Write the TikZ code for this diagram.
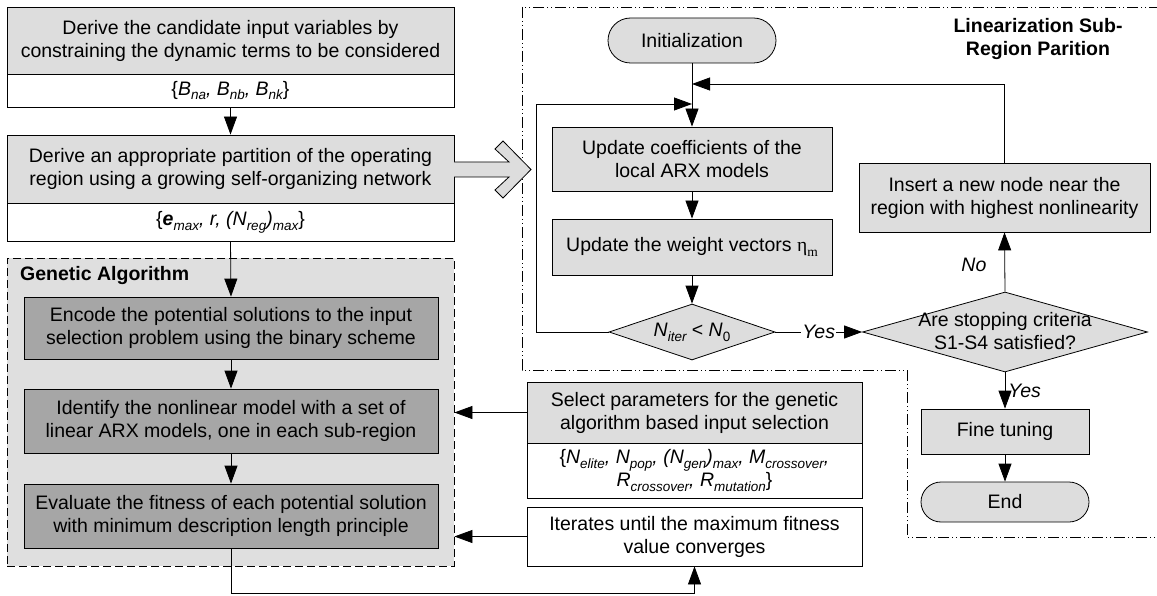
\documentclass[tikz,border=0pt]{standalone}
\usepackage{fontspec}
\setmainfont{Liberation Sans}
\newfontfamily\grk{Liberation Serif}
\usetikzlibrary{arrows.meta,shapes.geometric}
\definecolor{boxgray}{HTML}{DDDDDD}
\definecolor{darkbox}{HTML}{A6A6A6}
\definecolor{regiongray}{HTML}{DFDFDF}
% lowered, smaller text for subscripts
\newcommand\lo[1]{\raisebox{-0.25em}{\fontsize{13.5}{14}\selectfont #1}}
\begin{document}
\begin{tikzpicture}[x=1pt,y=-1pt,
  font=\fontsize{19.5}{23}\selectfont,
  box/.style={draw=black, line width=0.8pt, fill=boxgray, inner sep=0pt, align=center},
  whitebox/.style={box, fill=white},
  gabox/.style={box, fill=darkbox},
  dia/.style={diamond, draw=black, line width=0.8pt, fill=boxgray, inner sep=0pt},
  arr/.style={-{Triangle[length=18pt,width=13pt]}, line width=0.8pt},
  lbl/.style={font=\fontsize{19.5}{23}\selectfont\itshape},
  dashdot/.style={line width=0.8pt, dash pattern=on 11pt off 3pt on 1pt off 3pt on 1pt off 3pt},
  hollow/.style={draw=black, line width=0.8pt, fill=boxgray, line join=miter}
]
\useasboundingbox (0,0) rectangle (1157,596);

% ---- left column ----
\node[box, minimum width=447pt, minimum height=67pt] (b1) at (230.5,40.5)
  {Derive the candidate input variables by\\constraining the dynamic terms to be considered};
\node[whitebox, minimum width=447pt, minimum height=33pt] (b1p) at (230.5,90.5)
  {\{{\itshape B\lo{na}, B\lo{nb}, B\lo{nk}}\}};
\node[box, minimum width=447pt, minimum height=68pt] (b2) at (230.5,169)
  {Derive an appropriate partition of the operating\\region using a growing self-organizing network};
\node[whitebox, minimum width=447pt, minimum height=38pt] (b2p) at (230.5,222)
  {\{{\bfseries\itshape e}{\itshape\lo{max}, r, (N\lo{reg})\lo{max}}\}};

% genetic algorithm region
\node[draw=black, line width=0.8pt, dash pattern=on 8pt off 4pt, fill=regiongray,
  minimum width=447pt, minimum height=308pt, inner sep=0pt] (ga) at (230.5,412) {};
\node[anchor=west, inner sep=0pt, font=\fontsize{19.5}{23}\selectfont\bfseries] (gat) at (20,276) {Genetic Algorithm};

\node[gabox, minimum width=414pt, minimum height=62pt] (encode) at (231,328)
  {Encode the potential solutions to the input\\selection problem using the binary scheme};
\node[gabox, minimum width=414pt, minimum height=64pt] (ident) at (231,421)
  {Identify the nonlinear model with a set of\\linear ARX models, one in each sub-region};
\node[gabox, minimum width=414pt, minimum height=64pt] (evalf) at (231,516)
  {Evaluate the fitness of each potential solution\\with minimum description length principle};

% ---- middle column ----
\node[box, minimum width=335pt, minimum height=61pt] (select) at (694.5,412.5)
  {Select parameters for the genetic\\algorithm based input selection};
\node[whitebox, minimum width=335pt, minimum height=55pt] (selectp) at (694.5,470.5)
  {\{{\itshape N\lo{elite}, N\lo{pop}, (N\lo{gen})\lo{max}, M\lo{crossover},}\\{\itshape R\lo{crossover}, R\lo{mutation}}\}};
\node[whitebox, minimum width=335pt, minimum height=59pt] (iter) at (694.5,536.5)
  {Iterates until the maximum fitness\\value converges};

% ---- sub-region partition ----
\draw[dashdot] (1160,7) -- (522,7) -- (522,370) -- (907,370) -- (907,537) -- (1160,537);
\node[align=center, inner sep=0pt, font=\fontsize{19.5}{23}\selectfont\bfseries] (lt) at (1038,39)
  {Linearization Sub-\\Region Parition};

\node[box, minimum width=168pt, minimum height=45pt, rounded corners=22.5pt] (init) at (692,40.5) {Initialization};
\node[box, minimum width=280pt, minimum height=64pt] (upcoef) at (692,159)
  {Update coefficients of the\\local ARX models};
\node[box, minimum width=280pt, minimum height=56pt] (upweight) at (692,247)
  {Update the weight vectors {\grk η\lo{m}}};
\node[dia, minimum width=166pt, minimum height=56pt] (d1) at (692,332) {};
\node[inner sep=0pt] at (d1.center) {{\itshape N\lo{iter}} < {\itshape N}\lo{0}};
\node[dia, minimum width=285pt, minimum height=80pt] (d2) at (1005,332) {};
\node[align=center, inner sep=0pt] at ([yshift=1pt]d2.center) {Are stopping criteria\\S1-S4 satisfied?};
\node[box, minimum width=291pt, minimum height=69pt] (insert) at (1004.5,197.5)
  {Insert a new node near the\\region with highest nonlinearity};
\node[box, minimum width=168pt, minimum height=45pt] (fine) at (1005,431.5) {Fine tuning};
\node[box, minimum width=168pt, minimum height=40pt, rounded corners=20pt] (finish) at (1005,502) {End};

% wide hollow arrow into the partition stage
\draw[hollow] (454,162) -- (509,162) -- (495,149) -- (503,141) -- (531,169.5)
  -- (503,198) -- (495,190) -- (509,177) -- (454,177);

% ---- connectors ----
\draw[arr] (b1p.south) -- (b2.north);
\draw[arr] (b2p.south) -- (encode.north);
\draw[arr] (encode.south) -- (ident.north);
\draw[arr] (ident.south) -- (evalf.north);
\draw[arr] (select.west) -- (select.west -| ga.east);
\draw[arr] (iter.west) -- (iter.west -| ga.east);
\coordinate (lb) at (evalf.south |- 0,593);
\draw[arr] (evalf.south) -- (lb) -| (iter.south);

\draw[arr] (init.south) -- (upcoef.north);
\coordinate (topjoin) at (init.south |- 0,84);
\draw[arr] (insert.north) |- (topjoin);
\coordinate (lefttop) at (536,104);
\draw[arr] (d1.west) -| (lefttop) -- (lefttop -| init.south);
\draw[arr] (upcoef.south) -- (upweight.north);
\draw[arr] (upweight.south) -- (d1.north);
\draw[arr] (d1.east) -- node[fill=white, lbl, inner sep=1pt] {Yes} (d2.west);
\draw[arr] (d2.north) -- node[pos=0.45, left=18pt, lbl, inner sep=0pt] {No} (insert.south);
\draw[arr] (d2.south) -- node[right=3pt, lbl, inner sep=0pt] {Yes} (fine.north);
\draw[arr] (fine.south) -- (finish.north);
\end{tikzpicture}
\end{document}
